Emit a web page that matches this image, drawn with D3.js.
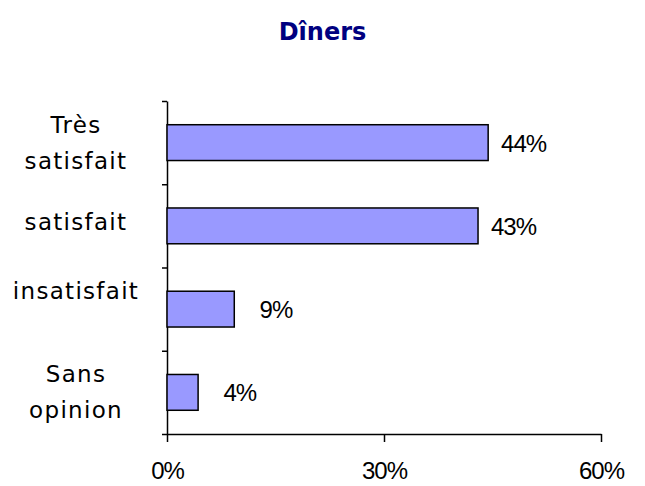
<!DOCTYPE html>
<html>
<head>
<meta charset="utf-8">
<script src="https://cdn.jsdelivr.net/npm/d3@7"></script>
<style>
  body { margin: 0; background: #fff; }
  .axis path, .axis line { stroke: #000; stroke-width: 1.5px; }
</style>
</head>
<body>
<div id="chart"></div>
<script>
// data
var categories = ["Très\nsatisfait", "satisfait", "insatisfait", "Sans\nopinion"];
var values = [44.4, 43.0, 9.3, 4.3];
var valueLabels = ["44%", "43%", "9%", "4%"];
var xTicks = [0, 30, 60];
var title = "Dîners";

var W = 645, H = 486;
var margin = {top: 101, right: 44, bottom: 52, left: 167};

var svg = d3.select("#chart")
  .append("svg")
    .attr("width", W)
    .attr("height", H);

// title
svg.append("text")
  .attr("x", W / 2)
  .attr("y", 40)
  .attr("text-anchor", "middle")
  .style("font-family", "DejaVu Sans")
  .style("font-weight", "bold")
  .style("font-size", "24px")
  .style("fill", "#000080")
  .text(title);

var x = d3.scaleLinear()
  .domain([0, 60])
  .range([margin.left, W - margin.right]);

var y = d3.scaleBand()
  .domain(categories)
  .range([margin.top, H - margin.bottom])
  .padding(0);

// boundary ticks on the category axis
var yEdge = d3.scaleLinear()
  .domain([0, categories.length])
  .range([margin.top, H - margin.bottom]);

svg.append("g")
  .attr("class", "axis")
  .attr("transform", "translate(" + margin.left + ",0)")
  .call(d3.axisLeft(yEdge).ticks(categories.length).tickFormat("").tickSize(5).tickSizeOuter(0));

// x axis
var xAxis = svg.append("g")
  .attr("class", "axis")
  .attr("transform", "translate(0," + (H - margin.bottom) + ")")
  .call(d3.axisBottom(x).tickValues(xTicks).tickFormat(function(d) { return d + "%"; })
        .tickSize(8).tickSizeOuter(0).tickPadding(20));
xAxis.selectAll("text")
  .style("font-family", "Liberation Sans")
  .style("font-size", "24px")
  .style("letter-spacing", "-1px")
  .style("fill", "#000");

// bars
var barH = y.bandwidth() * 0.43;
svg.selectAll("rect.bar")
  .data(values)
  .enter()
  .append("rect")
    .attr("class", "bar")
    .attr("x", x(0))
    .attr("y", function(d, i) { return y(categories[i]) + (y.bandwidth() - barH) / 2; })
    .attr("width", function(d) { return x(d) - x(0); })
    .attr("height", barH)
    .style("fill", "#9999ff")
    .style("stroke", "#000")
    .style("stroke-width", 1.5);

// value labels
svg.selectAll("text.val")
  .data(values)
  .enter()
  .append("text")
    .attr("class", "val")
    .attr("x", function(d) { return x(d) + 58; })
    .attr("y", function(d, i) { return y(categories[i]) + y.bandwidth() / 2 + 9; })
    .attr("text-anchor", "end")
    .style("font-family", "Liberation Sans")
    .style("font-size", "24px")
    .style("letter-spacing", "-1px")
    .text(function(d, i) { return valueLabels[i]; });

// category labels (single-line labels sit a bit high, like the original)
var nudge = function(d, lines) { return lines.length > 1 ? 0 : (d === "insatisfait" ? -18 : -4); };

var catText = svg.selectAll("text.cat")
  .data(categories)
  .enter()
  .append("text")
    .attr("class", "cat")
    .attr("text-anchor", "middle")
    .style("font-family", "DejaVu Sans")
    .style("font-size", "23px")
    .style("letter-spacing", "1.3px")
    .style("fill", "#000");

catText.each(function(d) {
  var lines = d.split("\n");
  var lh = 36;
  var cy = y(d) + y.bandwidth() / 2 + nudge(d, lines);
  var t = d3.select(this);
  lines.forEach(function(line, k) {
    t.append("tspan")
      .attr("x", 76)
      .attr("y", cy + 8 + (k - (lines.length - 1) / 2) * lh)
      .text(line);
  });
});
</script>
</body>
</html>
